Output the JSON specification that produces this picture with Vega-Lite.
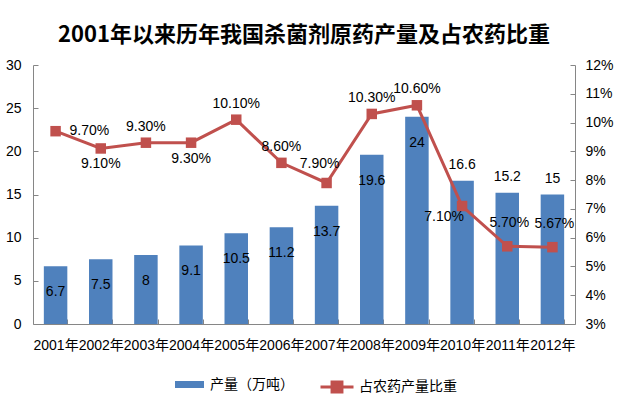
{
  "$schema": "https://vega.github.io/schema/vega-lite/v6.json",
  "width": 542,
  "height": 259,
  "autosize": {"type": "none"},
  "padding": {"left": 33, "top": 65, "right": 43, "bottom": 70},
  "title": {"text": "2001年以来历年我国杀菌剂原药产量及占农药比重", "fontSize": 22, "font": "Noto Sans CJK SC", "fontWeight": "bold", "color": "#000000", "anchor": "middle", "offset": 11},
  "data": {"values": [
    {"year": "2001年", "output": 6.7, "share": 0.097},
    {"year": "2002年", "output": 7.5, "share": 0.091},
    {"year": "2003年", "output": 8, "share": 0.093},
    {"year": "2004年", "output": 9.1, "share": 0.093},
    {"year": "2005年", "output": 10.5, "share": 0.101},
    {"year": "2006年", "output": 11.2, "share": 0.086},
    {"year": "2007年", "output": 13.7, "share": 0.079},
    {"year": "2008年", "output": 19.6, "share": 0.103},
    {"year": "2009年", "output": 24, "share": 0.106},
    {"year": "2010年", "output": 16.6, "share": 0.071},
    {"year": "2011年", "output": 15.2, "share": 0.057},
    {"year": "2012年", "output": 15, "share": 0.0567}
  ]},
  "encoding": {
    "x": {"field": "year", "type": "ordinal", "sort": null,
      "scale": {"paddingInner": 0.48, "paddingOuter": 0.24},
      "axis": {"title": null, "labelAngle": 0, "labelOverlap": false, "tickBand": "extent", "tickSize": -5, "labelPadding": 19, "labelFontSize": 14, "labelFont": "Liberation Sans, Noto Sans CJK SC"}}
  },
  "layer": [
    {"layer": [
      {"mark": {"type": "bar"},
       "encoding": {
         "y": {"field": "output", "type": "quantitative", "scale": {"domain": [0, 30]},
           "axis": {"title": null, "orient": "left", "values": [0, 5, 10, 15, 20, 25, 30], "tickCount": 7, "tickSize": -5, "labelPadding": 17, "labelOverlap": false}},
         "color": {"datum": "产量（万吨）", "scale": {"range": ["#4F81BD"]},
           "legend": {"title": null, "orient": "none", "legendX": 141, "legendY": 304, "symbolType": "M-1,-0.24H1V0.24H-1Z", "symbolSize": 841, "labelFontSize": 14, "labelFont": "Noto Sans CJK SC", "labelColor": "#000000", "labelOffset": 5}}
       }},
      {"transform": [{"filter": {"not": {"field": "year", "oneOf": ["2010年", "2011年", "2012年"]}}}],
       "mark": {"type": "text", "dy": 26, "fontSize": 14, "font": "Liberation Sans", "color": "#000000", "baseline": "middle"},
       "encoding": {"y": {"field": "output", "type": "quantitative"}, "text": {"field": "output", "type": "nominal"}}},
      {"transform": [{"filter": {"field": "year", "oneOf": ["2010年", "2011年", "2012年"]}}],
       "mark": {"type": "text", "dy": -16, "fontSize": 14, "font": "Liberation Sans", "color": "#000000", "baseline": "middle"},
       "encoding": {"y": {"field": "output", "type": "quantitative"}, "text": {"field": "output", "type": "nominal"}}}
    ]},
    {"layer": [
      {"mark": {"type": "line", "strokeWidth": 3},
       "encoding": {
         "y": {"field": "share", "type": "quantitative", "scale": {"domain": [0.03, 0.12]},
           "axis": {"title": null, "orient": "right", "values": [0.03, 0.04, 0.05, 0.06, 0.07, 0.08, 0.09, 0.1, 0.11, 0.12], "tickCount": 10, "format": ".0%", "tickSize": -5, "labelPadding": 15, "labelOverlap": false, "labelFlush": false}},
         "stroke": {"datum": "占农药产量比重", "scale": {"range": ["#C0504D"]},
           "legend": {"title": null, "orient": "none", "legendX": 286, "legendY": 304, "symbolType": "M-1,0H1M-0.3,-0.3H0.3V0.3H-0.3Z", "symbolSize": 1089, "symbolStrokeWidth": 3, "symbolFillColor": "#C0504D", "labelFontSize": 14, "labelFont": "Noto Sans CJK SC", "labelColor": "#000000", "labelOffset": 4}}
       }},
      {"mark": {"type": "point", "shape": "square", "filled": true, "size": 110, "color": "#C0504D", "opacity": 1},
       "encoding": {"y": {"field": "share", "type": "quantitative"}}},
      {"transform": [{"filter": {"field": "year", "oneOf": ["2001年"]}}],
       "mark": {"type": "text", "align": "left", "dx": 14, "dy": 0, "fontSize": 14, "font": "Liberation Sans", "color": "#000000", "baseline": "middle"},
       "encoding": {"y": {"field": "share", "type": "quantitative"}, "text": {"field": "share", "type": "quantitative", "format": ".2%"}}},
      {"transform": [{"filter": {"field": "year", "oneOf": ["2002年", "2004年"]}}],
       "mark": {"type": "text", "dy": 16, "fontSize": 14, "font": "Liberation Sans", "color": "#000000", "baseline": "middle"},
       "encoding": {"y": {"field": "share", "type": "quantitative"}, "text": {"field": "share", "type": "quantitative", "format": ".2%"}}},
      {"transform": [{"filter": {"field": "year", "oneOf": ["2010年"]}}],
       "mark": {"type": "text", "dx": -18, "dy": 11, "fontSize": 14, "font": "Liberation Sans", "color": "#000000", "baseline": "middle"},
       "encoding": {"y": {"field": "share", "type": "quantitative"}, "text": {"field": "share", "type": "quantitative", "format": ".2%"}}},
      {"transform": [{"filter": {"field": "year", "oneOf": ["2003年", "2005年", "2006年", "2008年", "2009年"]}}],
       "mark": {"type": "text", "dy": -16, "fontSize": 14, "font": "Liberation Sans", "color": "#000000", "baseline": "middle"},
       "encoding": {"y": {"field": "share", "type": "quantitative"}, "text": {"field": "share", "type": "quantitative", "format": ".2%"}}},
      {"transform": [{"filter": {"field": "year", "oneOf": ["2007年"]}}],
       "mark": {"type": "text", "dx": -7, "dy": -19, "fontSize": 14, "font": "Liberation Sans", "color": "#000000", "baseline": "middle"},
       "encoding": {"y": {"field": "share", "type": "quantitative"}, "text": {"field": "share", "type": "quantitative", "format": ".2%"}}},
      {"transform": [{"filter": {"field": "year", "oneOf": ["2011年", "2012年"]}}],
       "mark": {"type": "text", "dx": 2, "dy": -23, "fontSize": 14, "font": "Liberation Sans", "color": "#000000", "baseline": "middle"},
       "encoding": {"y": {"field": "share", "type": "quantitative"}, "text": {"field": "share", "type": "quantitative", "format": ".2%"}}}
    ]}
  ],
  "resolve": {"scale": {"y": "independent"}},
  "config": {
    "view": {"stroke": null},
    "axis": {"grid": false, "labelOverlap": false, "domainColor": "#868686", "tickColor": "#868686", "labelColor": "#000000", "labelFont": "Liberation Sans", "labelFontSize": 14}
  }
}
